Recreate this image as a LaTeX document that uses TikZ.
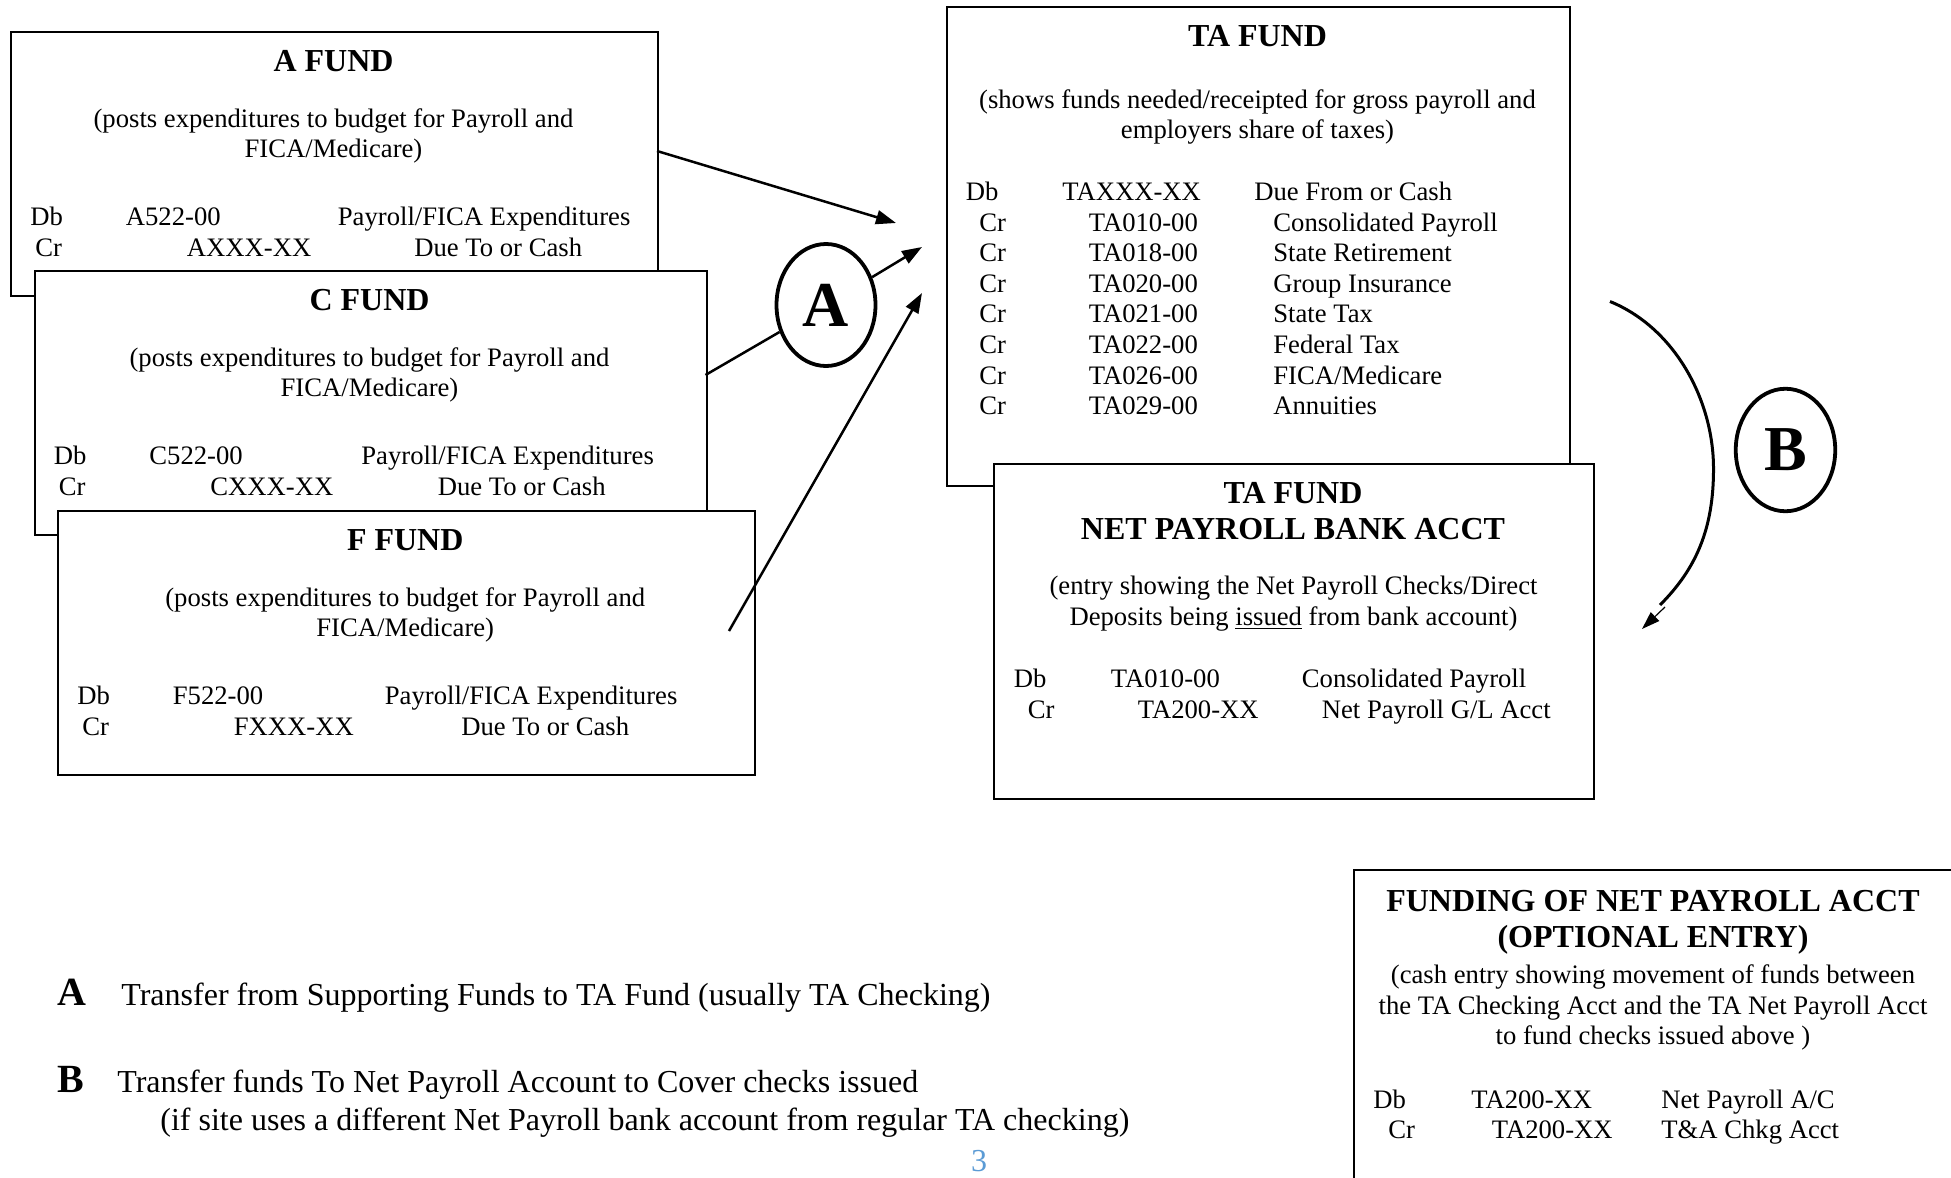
\documentclass[tikz,border=0pt]{standalone}
\usepackage{fontspec}
\setmainfont{Liberation Serif}
\usetikzlibrary{arrows.meta,shapes.geometric}
\definecolor{pagenum}{RGB}{91,155,213}
\tikzset{
 fundframe/.style={draw=black, line width=1pt, fill=white, inner sep=0pt, anchor=north west},
 txt/.style={inner sep=0pt, font=\fontsize{13.33}{15.4}\selectfont, anchor=base west},
 ctxt/.style={txt, anchor=base},
 ttl/.style={inner sep=0pt, font=\fontsize{16}{19}\selectfont\bfseries, anchor=base},
 lgd/.style={inner sep=0pt, font=\fontsize{16}{19.3}\selectfont, anchor=base west},
 lgdl/.style={inner sep=0pt, font=\fontsize{20}{24}\selectfont\bfseries, anchor=base west},
 circ/.style={ellipse, draw, line width=1.9pt, inner sep=0pt, font=\fontsize{32}{38}\selectfont\bfseries},
 conn/.style={line width=1.25pt},
 arr/.style={conn, -{Triangle[length=10pt,width=7pt]}},
}
% name, letter, x, y, width
\newcommand\fundbox[5]{%
 \begin{scope}[shift={(#3,#4)}]
  \node[fundframe, minimum width={#5*0.5pt}, minimum height=132pt] (#1) at (0,0) {};
  \node[ttl] (#1-t) at ({#5/2},40.5) {#2 FUND};
  \node[ctxt] (#1-s1) at ({#5/2},96) {(posts expenditures to budget for Payroll and};
  \node[ctxt] (#1-s2) at ({#5/2},126.5) {FICA/Medicare)};
  \node[txt] (#1-db) at (20,194.5) {Db};
  \node[txt] (#1-dc) at (115.5,194.5) {#2522-00};
  \node[txt] (#1-dd) at (327.5,194.5) {Payroll/FICA Expenditures};
  \node[txt] (#1-cr) at (25,225.5) {Cr};
  \node[txt] (#1-cc) at (176.5,225.5) {#2XXX-XX};
  \node[txt] (#1-cd) at (404,225.5) {Due To or Cash};
 \end{scope}}
\begin{document}
\begin{tikzpicture}[x=0.5pt,y=-0.5pt]
\useasboundingbox (0,0) rectangle (1951,1178);

% supporting funds
\fundbox{fa}{A}{10}{31}{647}
\fundbox{fc}{C}{33.5}{270}{672}
\fundbox{ff}{F}{57}{510}{696.5}

% TA fund
\node[fundframe, minimum width=311.5pt, minimum height=239.5pt] (ta) at (946,6) {};
\node[ttl] (ta-t) at (1257.5,46.5) {TA FUND};
\node[ctxt] (ta-s1) at (1257.5,108.5) {(shows funds needed/receipted for gross payroll and};
\node[ctxt] (ta-s2) at (1257.5,138.5) {employers share of taxes)};
\node[txt] (ta-db) at (965.5,200.5) {Db};
\node[txt] (ta-dc) at (1062,200.5) {TAXXX-XX};
\node[txt] (ta-dd) at (1254,200.5) {Due From or Cash};
\foreach \i/\c/\d in {1/TA010-00/Consolidated Payroll,2/TA018-00/State Retirement,3/TA020-00/Group Insurance,4/TA021-00/State Tax,5/TA022-00/Federal Tax,6/TA026-00/{FICA/Medicare},7/TA029-00/Annuities}{
  \node[txt] (ta-cr\i) at (979,{200.5+30.6*\i}) {Cr};
  \node[txt] (ta-c\i) at (1088.5,{200.5+30.6*\i}) {\c};
  \node[txt] (ta-d\i) at (1273,{200.5+30.6*\i}) {\d};
}

% TA net payroll
\node[fundframe, minimum width=300pt, minimum height=167.5pt] (net) at (993,463) {};
\node[ttl] (net-t1) at (1293,503) {TA FUND};
\node[ttl] (net-t2) at (1293,539.5) {NET PAYROLL BANK ACCT};
\node[ctxt] (net-s1) at (1293.5,594.5) {(entry showing the Net Payroll Checks/Direct};
\node[ctxt] (net-s2) at (1293.5,625.5) {Deposits being \underline{issued} from bank account)};
\node[txt] (net-db) at (1013.5,687.5) {Db};
\node[txt] (net-dc) at (1110.5,687.5) {TA010-00};
\node[txt] (net-dd) at (1301.5,687.5) {Consolidated Payroll};
\node[txt] (net-cr) at (1027.5,718) {Cr};
\node[txt] (net-cc) at (1137.5,718) {TA200-XX};
\node[txt] (net-cd) at (1321.5,718) {Net Payroll G/L Acct};

% funding box (clipped by page edge)
\draw[line width=1pt] (1951,870) -- (1354,870) -- (1354,1178);
\node[ttl] (fu-t1) at (1653,911.5) {FUNDING OF NET PAYROLL ACCT};
\node[ttl] (fu-t2) at (1653,947) {(OPTIONAL ENTRY)};
\node[ctxt] (fu-s1) at (1653,983.5) {(cash entry showing movement of funds between};
\node[ctxt] (fu-s2) at (1653,1014) {the TA Checking Acct and the TA Net Payroll Acct};
\node[ctxt] (fu-s3) at (1653,1044.5) {to fund checks issued above )};
\node[txt] (fu-db) at (1373,1108) {Db};
\node[txt] (fu-dc) at (1471,1108) {TA200-XX};
\node[txt] (fu-dd) at (1661,1108) {Net Payroll A/C};
\node[txt] (fu-cr) at (1388,1138.5) {Cr};
\node[txt] (fu-cc) at (1491.5,1138.5) {TA200-XX};
\node[txt] (fu-cd) at (1661,1138.5) {T\&A Chkg Acct};

% circles
\node[circ, minimum width=49.5pt, minimum height=61pt] (cA) at (826,305) {A};
\node[circ, minimum width=49.75pt, minimum height=61.25pt] (cB) at (1785.5,450) {B};

% connectors A
\coordinate (a1s) at (657,151);
\coordinate (a1e) at (896,223);
\draw[arr] (a1s) -- (a1e);
\coordinate (a2s) at (705.5,375);
\draw[conn] (a2s) -- (cA);
\coordinate (a3e) at (922,247);
\draw[arr] (cA) -- (a3e);
\coordinate (a4s) at (729,631);
\coordinate (a4e) at (922,293);
\draw[arr] (a4s) -- (a4e);

% connector B
\coordinate (bs) at (1610,301.5);
\coordinate (be) at (1660,605);
\draw[line width=1.5pt] (bs) .. controls (1675,328) and (1713,400) .. (1713.5,467)
   .. controls (1714,530) and (1695,570) .. (be);
\coordinate (bh) at (1665,607);
\coordinate (bt) at (1642,629);
\draw[line width=0.6pt, -{Triangle[length=9pt,width=6pt]}] (bh) -- (bt);

% legend
\node[lgdl] (lA) at (57,1005) {A};
\node[lgd] (lAt) at (121,1005) {Transfer from Supporting Funds to TA Fund (usually TA Checking)};
\node[lgdl] (lB) at (57,1092.5) {B};
\node[lgd] (lBt) at (117,1092) {Transfer funds To Net Payroll Account to Cover checks issued};
\node[lgd] (lBt2) at (160,1130) {(if site uses a different Net Payroll bank account from regular TA checking)};
\node[inner sep=0pt, anchor=base, font=\fontsize{16}{19}\selectfont, text=pagenum] (pg) at (979,1171.5) {3};
\end{tikzpicture}
\end{document}
